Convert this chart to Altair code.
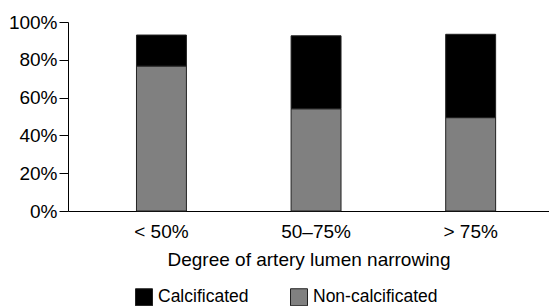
import altair as alt
import pandas as pd

categories = ["< 50%", "50–75%", "> 75%"]
non_calcificated = [0.767, 0.541, 0.494]
calcificated = [0.164, 0.386, 0.441]
series = ["Calcificated", "Non-calcificated"]
colors = ["#000000", "#808080"]
y_ticks = [0, 0.2, 0.4, 0.6, 0.8, 1.0]

rows = []
for c, nc, ca in zip(categories, non_calcificated, calcificated):
    rows.append({"cat": c, "type": "Non-calcificated", "value": nc, "ord": 0})
    rows.append({"cat": c, "type": "Calcificated", "value": ca, "ord": 1})
df = pd.DataFrame(rows)

FONT = "Liberation Sans"

chart = alt.Chart(df).mark_bar(stroke="#222222", strokeWidth=1).encode(
    x=alt.X("cat:N", sort=categories,
            scale=alt.Scale(paddingInner=0.677, paddingOuter=0.394, align=0.562),
            axis=alt.Axis(title="Degree of artery lumen narrowing", labelAngle=0,
                          ticks=False, tickSize=0, labelPadding=11, titlePadding=9,
                          labelFontSize=19, titleFontSize=19, titleFontWeight="normal",
                          labelColor="black", titleColor="black",
                          domainColor="black", labelFont=FONT, titleFont=FONT)),
    y=alt.Y("value:Q", stack="zero",
            scale=alt.Scale(domain=[0, 1], nice=False),
            axis=alt.Axis(title=None, values=y_ticks, format=".0%", tickSize=9,
                          labelPadding=2, labelFontSize=19, labelColor="black",
                          domainColor="black", tickColor="black", grid=False,
                          labelFont=FONT)),
    color=alt.Color("type:N", scale=alt.Scale(domain=series, range=colors),
                    legend=alt.Legend(title=None, orient="none", direction="horizontal",
                                      legendX=67, legendY=266, padding=0,
                                      symbolType="square", symbolSize=289,
                                      symbolStrokeColor="#222222", symbolStrokeWidth=1,
                                      labelFontSize=17.5, labelFont=FONT, labelColor="black",
                                      labelOffset=5, columnPadding=39)),
    order=alt.Order("ord:Q"),
).properties(
    width=481, height=189,
    autosize=alt.AutoSizeParams(type="none"),
    padding={"left": 60, "top": 14, "right": 0, "bottom": 95},
).configure_view(stroke=None)

chart.save("out.html", embed_options={"renderer": "svg", "actions": False})
